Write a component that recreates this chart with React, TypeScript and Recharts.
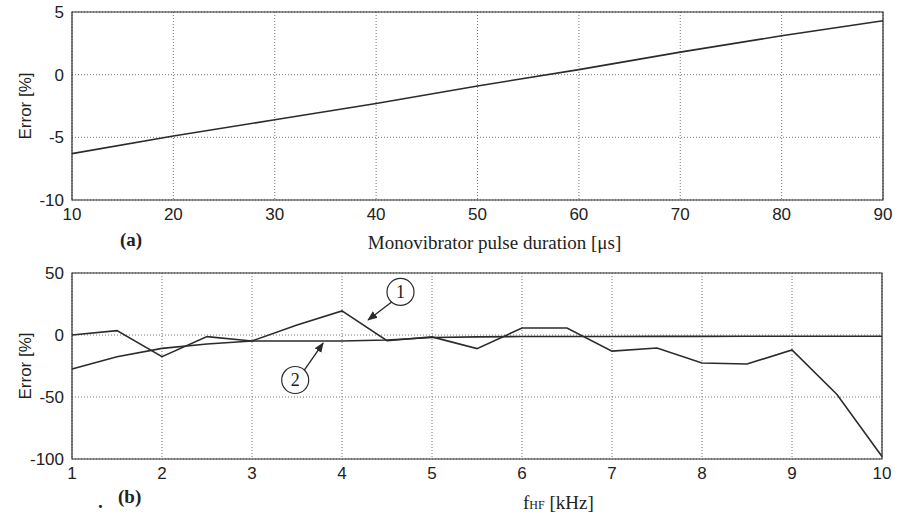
import React from "react";
import { LineChart, Line, XAxis, YAxis, CartesianGrid, ReferenceArea, ReferenceDot, ReferenceLine } from "recharts";

// (a) error vs monovibrator pulse duration
const pulseUs = [10, 20, 30, 40, 50, 60, 70, 80, 90];
const errorPulse = [-6.3, -4.9, -3.6, -2.3, -0.9, 0.4, 1.8, 3.1, 4.3];
const pulseTicks = [10, 20, 30, 40, 50, 60, 70, 80, 90];
const errorPulseTicks = [-10, -5, 0, 5];

// (b) error vs f_HF
const freqKHz = [1, 1.5, 2, 2.5, 3, 3.5, 4, 4.5, 5, 5.5, 6, 6.5, 7, 7.5, 8, 8.5, 9, 9.5, 10];
const errorCurve1 = [0, 3.5, -17.5, -1.3, -4.8, 8, 19.4, -4.6, -1.5, -11, 5.6, 5.6, -13, -10.5, -22.6, -23.4, -12, -48, -98];
const errorCurve2 = [-27.4, -17.5, -10.8, -7.3, -4.8, -4.8, -4.8, -4, -2, -1.5, -1.2, -1.2, -1.2, -1.1, -1.1, -1, -1, -1, -1];
const freqTicks = [1, 2, 3, 4, 5, 6, 7, 8, 9, 10];
const errorFreqTicks = [-100, -50, 0, 50];

const pulseData = pulseUs.map((x, i) => ({ x, err: errorPulse[i] }));
const freqData = freqKHz.map((x, i) => ({ x, c1: errorCurve1[i], c2: errorCurve2[i] }));

const INK = "#2b2b2b";
const sans = "'Liberation Sans', Arial, sans-serif";
const serif = "'Liberation Serif', 'Times New Roman', serif";
const tickStyle = { fill: "#222", fontSize: 17, fontFamily: sans };
const gridProps = { stroke: "#777", strokeDasharray: "1 2" };

const yLabel = {
    value: "Error [%]",
    angle: -90,
    position: "center" as const,
    dx: -11,
    style: { fill: "#222", fontSize: 17, fontFamily: sans, textAnchor: "middle" as const },
};

function CircleLabel({ viewBox, value }: any) {
    const cx = (viewBox?.x ?? 0) + (viewBox?.width ?? 0) / 2;
    const cy = (viewBox?.y ?? 0) + (viewBox?.height ?? 0) / 2;
    return (
        <text x={cx} y={cy + 6} textAnchor="middle" fontFamily={serif} fontSize={18} fill="#222">
            {value}
        </text>
    );
}

export default function App() {
    return (
        <div style={{ position: "relative", width: 905, height: 519, background: "#fff" }}>
            <style>{`body{margin:0}`}</style>

            <LineChart width={905} height={260} data={pulseData} margin={{ top: 12, right: 22, left: 0, bottom: 5 }}>
                <CartesianGrid {...gridProps} />
                <XAxis
                    dataKey="x"
                    type="number"
                    domain={[10, 90]}
                    ticks={pulseTicks}
                    height={55}
                    axisLine={false}
                    tickLine={false}
                    tick={tickStyle}
                    label={{
                        value: "Monovibrator pulse duration [μs]",
                        position: "insideBottom",
                        offset: 6,
                        dx: 17,
                        style: { fill: "#222", fontSize: 19, fontFamily: serif },
                    }}
                />
                <YAxis
                    type="number"
                    domain={[-10, 5]}
                    ticks={errorPulseTicks}
                    width={72}
                    axisLine={false}
                    tickLine={false}
                    tick={tickStyle}
                    label={yLabel}
                />
                <ReferenceArea x1={10} x2={90} y1={-10} y2={5} fill="none" fillOpacity={0} stroke={INK} strokeWidth={1.2} />
                <Line type="linear" dataKey="err" stroke={INK} strokeWidth={1.6} dot={false} isAnimationActive={false} />
            </LineChart>

            <LineChart width={905} height={259} data={freqData} margin={{ top: 13, right: 23, left: 0, bottom: 30 }}>
                <defs>
                    <marker id="arrowHead" viewBox="0 0 10 10" refX="9" refY="5" markerWidth="10" markerHeight="10" orient="auto-start-reverse" markerUnits="userSpaceOnUse">
                        <path d="M0,1 L10,5 L0,9 z" fill={INK} />
                    </marker>
                </defs>
                <CartesianGrid {...gridProps} />
                <XAxis
                    dataKey="x"
                    type="number"
                    domain={[1, 10]}
                    ticks={freqTicks}
                    height={30}
                    axisLine={false}
                    tickLine={false}
                    tick={tickStyle}
                />
                <YAxis
                    type="number"
                    domain={[-100, 50]}
                    ticks={errorFreqTicks}
                    width={72}
                    axisLine={false}
                    tickLine={false}
                    tick={tickStyle}
                    label={yLabel}
                />
                <ReferenceArea x1={1} x2={10} y1={-100} y2={50} fill="none" fillOpacity={0} stroke={INK} strokeWidth={1.2} />
                <Line type="linear" dataKey="c2" stroke={INK} strokeWidth={1.6} dot={false} isAnimationActive={false} />
                <Line type="linear" dataKey="c1" stroke={INK} strokeWidth={1.6} dot={false} isAnimationActive={false} />
                <ReferenceLine
                    segment={[{ x: 4.61, y: 29.8 }, { x: 4.29, y: 12.1 }]}
                    stroke={INK}
                    strokeWidth={1.4}
                    markerEnd="url(#arrowHead)"
                />
                <ReferenceLine
                    segment={[{ x: 3.56, y: -30.6 }, { x: 3.79, y: -6.5 }]}
                    stroke={INK}
                    strokeWidth={1.4}
                    markerEnd="url(#arrowHead)"
                />
                <ReferenceDot x={4.65} y={34.7} r={13.5} fill="#fff" stroke={INK} strokeWidth={1.2} label={<CircleLabel value="1" />} />
                <ReferenceDot x={3.48} y={-36.3} r={13.5} fill="#fff" stroke={INK} strokeWidth={1.2} label={<CircleLabel value="2" />} />
            </LineChart>

            <div style={{ position: "absolute", left: 120, top: 229, fontFamily: serif, fontWeight: "bold", fontSize: 19, color: "#222" }}>(a)</div>
            <div style={{ position: "absolute", left: 118, top: 486, fontFamily: serif, fontWeight: "bold", fontSize: 19, color: "#222" }}>(b)</div>
            <div style={{ position: "absolute", left: 98, top: 491, fontFamily: serif, fontWeight: "bold", fontSize: 19, color: "#222" }}>.</div>
            <div style={{ position: "absolute", left: 523, top: 492, fontFamily: serif, fontSize: 19, color: "#222" }}>
                f<span style={{ fontSize: 12 }}>HF</span> [kHz]
            </div>
        </div>
    );
}
